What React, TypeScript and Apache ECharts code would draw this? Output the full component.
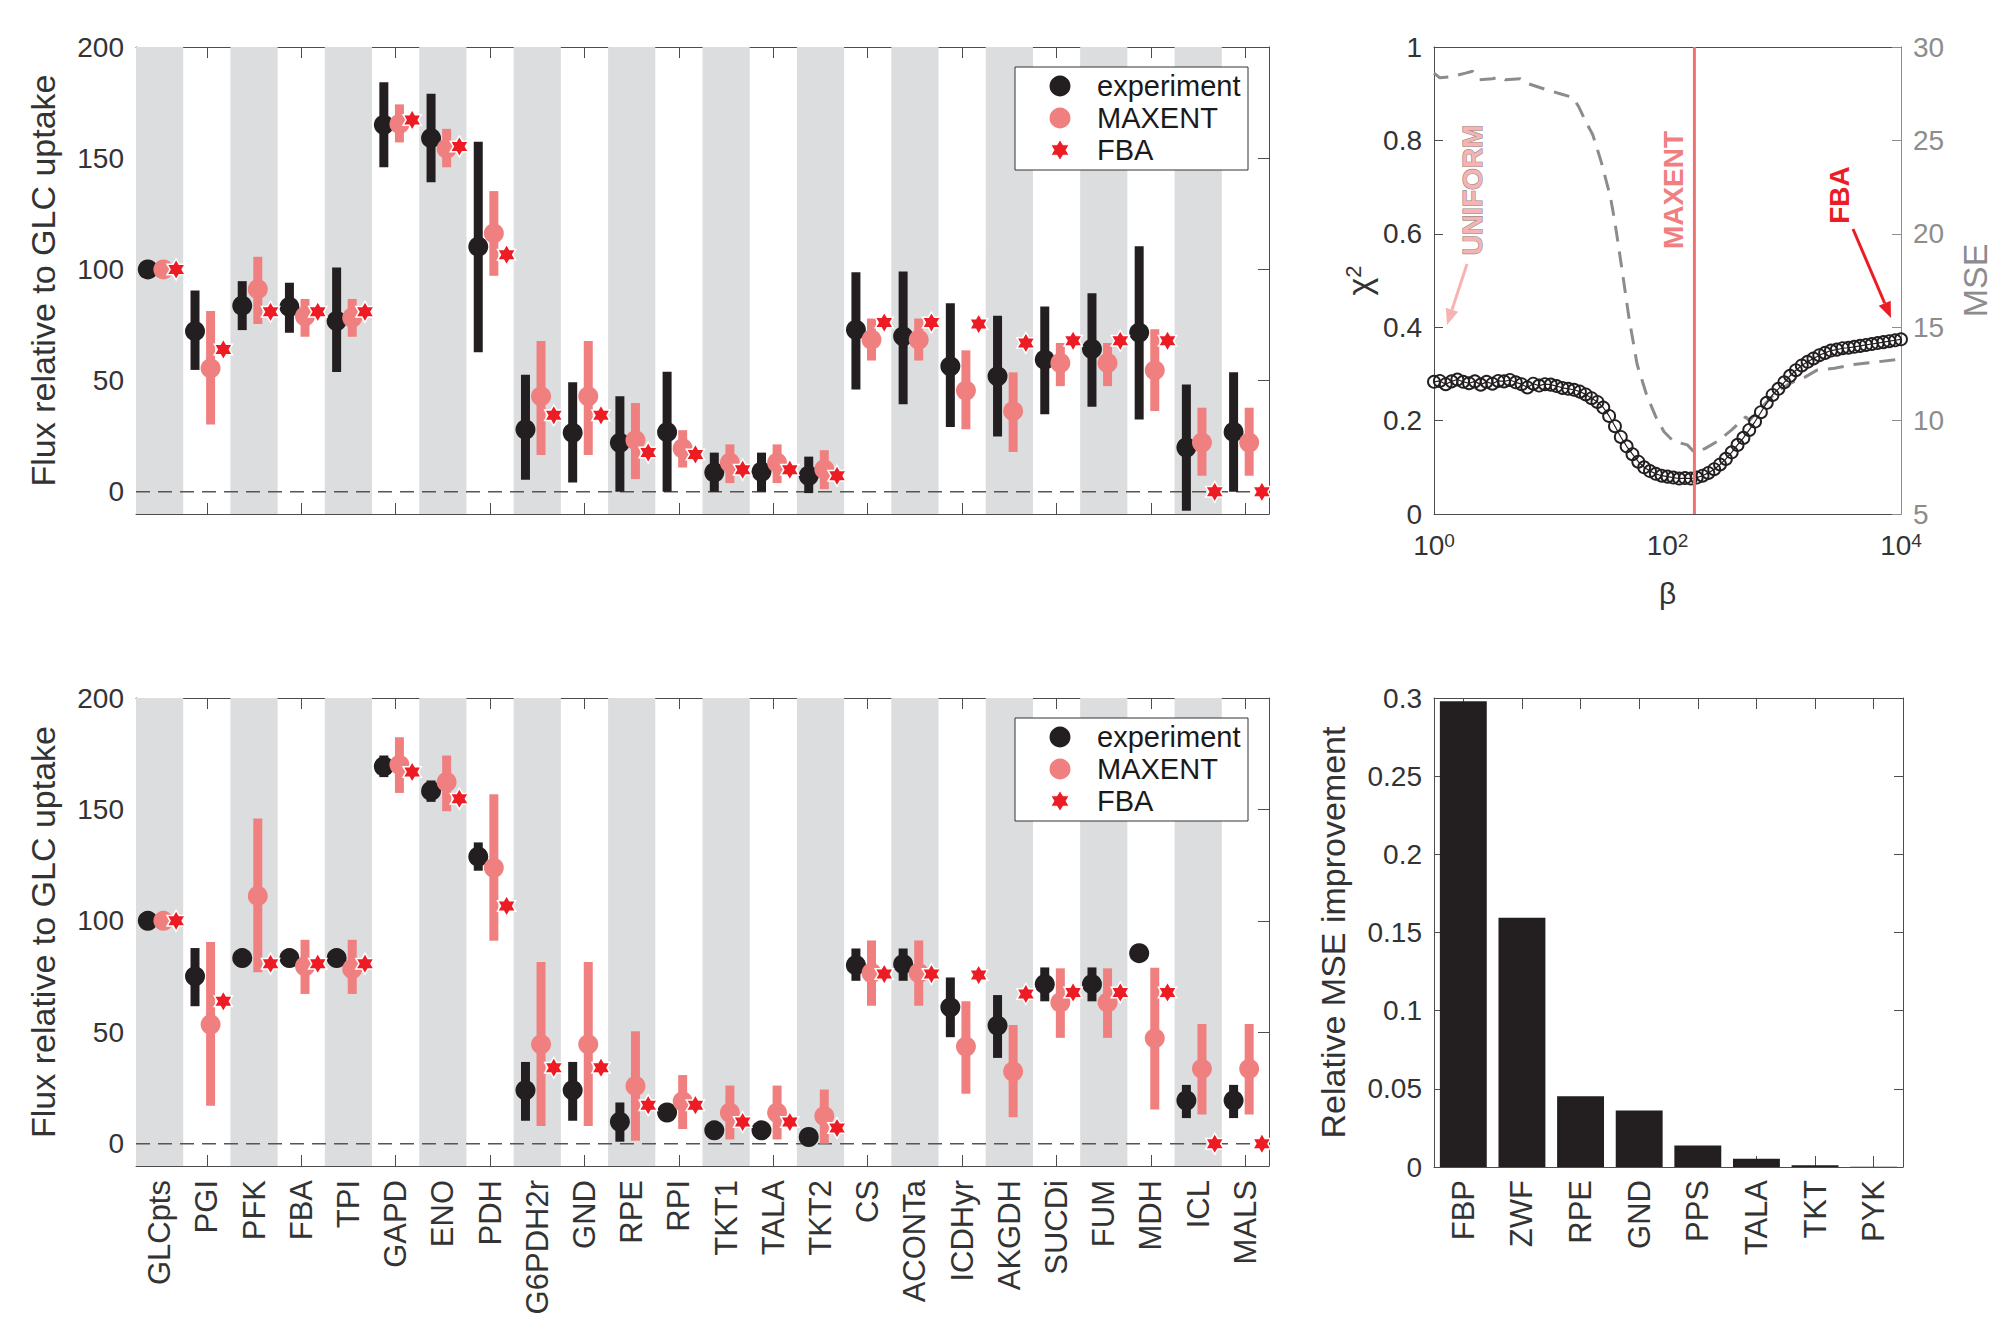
import React, { useEffect, useRef } from 'react';
import * as echarts from 'echarts';

// ---------------- data ----------------
const reactions = ['GLCpts', 'PGI', 'PFK', 'FBA', 'TPI', 'GAPD', 'ENO', 'PDH', 'G6PDH2r', 'GND', 'RPE', 'RPI', 'TKT1', 'TALA', 'TKT2', 'CS', 'ACONTa', 'ICDHyr', 'AKGDH', 'SUCDi', 'FUM', 'MDH', 'ICL', 'MALS'];

// top panel
const topExp = [100, 72.2, 83.7, 83.1, 76.8, 165, 159, 110.2, 28, 26.5, 22, 26.8, 8.7, 9, 7.2, 72.8, 69.9, 56.4, 51.9, 59.4, 64.2, 71.6, 19.9, 26.9];
const topExpLow = [null, 54.8, 72.7, 71.5, 53.9, 145.9, 139.2, 62.7, 5.4, 4.2, 0, 0, 0, 0, -0.6, 46, 39.3, 29.1, 24.8, 34.8, 38.2, 32.5, -8.5, 0];
const topExpHigh = [null, 90.5, 94.7, 94, 100.8, 184.2, 179, 157.4, 52.6, 49.3, 42.9, 54, 17.6, 17.6, 15.8, 98.7, 99.1, 84.8, 79.1, 83.3, 89.3, 110.4, 48.2, 53.7];
const topMaxent = [100, 55.5, 91.1, 78.9, 78.3, 165.4, 154.3, 116.2, 42.9, 42.9, 23.2, 19.5, 13.1, 13.1, 10.1, 68.4, 68.4, 45.5, 36.3, 57.9, 57.9, 54.6, 22.1, 22.1];
const topMaxentLow = [null, 30.2, 75.4, 69.7, 69.7, 157.1, 145.9, 97.1, 16.5, 16.5, 5.7, 10.9, 3.9, 3.9, 1.2, 59, 59, 28.1, 17.9, 47.5, 47.5, 36.3, 7.2, 7.2];
const topMaxentHigh = [null, 81.3, 105.7, 86.7, 86.7, 174.2, 163.2, 135.2, 67.8, 67.8, 39.9, 27.7, 21.3, 21.3, 18.7, 77.9, 77.9, 63.6, 53.7, 66.9, 66.9, 73.1, 37.8, 37.8];
const topFba = [100, 64, 80.9, 80.9, 80.9, 167.2, 155.3, 106.6, 34.4, 34.4, 17.6, 16.8, 9.9, 9.9, 7.2, 76.1, 76.1, 75.4, 66.9, 67.9, 67.9, 67.9, 0, 0];

// bottom panel
const botExp = [100, 75.1, 83.3, 83.3, 83.3, 169.3, 158.3, 128.8, 24, 24, 9.8, 14, 6, 6, 3, 80.1, 80.6, 61.2, 53, 71.6, 71.6, 85.5, 19.4, 19.4];
const botExpLow = [null, 61.7, null, null, null, 164.5, 153.4, 122.5, 10.3, 10.3, 0.9, null, null, null, null, 73.1, 73.1, 47.8, 38.5, 63.9, 63.9, null, 11.5, 11.5];
const botExpHigh = [null, 87.8, null, null, null, 174.2, 163, 135.2, 36.7, 36.7, 18.5, null, null, null, null, 87.6, 87.6, 74.6, 66.7, 79.1, 79.1, null, 26.4, 26.4];
const botMaxent = [100, 53.5, 111.2, 79.6, 78.4, 170, 162.3, 123.8, 44.6, 44.6, 25.9, 19, 13.9, 13.9, 12.4, 76.6, 76.6, 43.6, 32.4, 63.4, 63.4, 47.3, 33.6, 33.6];
const botMaxentLow = [null, 17, 76.9, 67.2, 67.2, 157.4, 149.2, 91.1, 8, 8, 1.3, 6.6, 1.9, 1.9, 0, 61.9, 61.9, 22.4, 11.9, 47.5, 47.5, 15.4, 13.1, 13.1];
const botMaxentHigh = [null, 90.5, 145.9, 91.5, 91.5, 182.4, 174.2, 156.8, 81.5, 81.5, 50.5, 30.8, 26.1, 26.1, 24.3, 91.2, 91.2, 63.9, 53.3, 78.7, 78.7, 79, 53.7, 53.7];
const botFba = [100, 63.9, 80.8, 80.8, 80.8, 166.8, 154.8, 106.7, 34.1, 34.1, 17.3, 17.3, 9.7, 9.7, 7, 76.1, 76.1, 75.7, 67.2, 67.9, 67.9, 67.9, 0, 0];

// chi^2 vs beta (beta given as log10 exponent)
const chiBetaLog10 = [0, 0.05, 0.1, 0.15, 0.2, 0.25, 0.3, 0.35, 0.4, 0.45, 0.5, 0.55, 0.6, 0.65, 0.7, 0.75, 0.8, 0.85, 0.9, 0.95, 1, 1.05, 1.1, 1.15, 1.2, 1.25, 1.3, 1.35, 1.4, 1.45, 1.5, 1.55, 1.6, 1.65, 1.7, 1.75, 1.8, 1.85, 1.9, 1.95, 2, 2.05, 2.1, 2.15, 2.2, 2.25, 2.3, 2.35, 2.4, 2.45, 2.5, 2.55, 2.6, 2.65, 2.7, 2.75, 2.8, 2.85, 2.9, 2.95, 3, 3.05, 3.1, 3.15, 3.2, 3.25, 3.3, 3.35, 3.4, 3.45, 3.5, 3.55, 3.6, 3.65, 3.7, 3.75, 3.8, 3.85, 3.9, 3.95, 4];
const chi2 = [0.283, 0.285, 0.278, 0.284, 0.288, 0.283, 0.28, 0.284, 0.277, 0.283, 0.279, 0.285, 0.284, 0.287, 0.282, 0.278, 0.271, 0.279, 0.275, 0.278, 0.277, 0.274, 0.27, 0.268, 0.266, 0.262, 0.256, 0.248, 0.24, 0.228, 0.21, 0.188, 0.165, 0.145, 0.128, 0.112, 0.1, 0.092, 0.086, 0.082, 0.08, 0.078, 0.076, 0.077, 0.076, 0.078, 0.082, 0.088, 0.096, 0.106, 0.118, 0.132, 0.148, 0.163, 0.18, 0.198, 0.218, 0.238, 0.255, 0.268, 0.282, 0.296, 0.308, 0.318, 0.326, 0.333, 0.34, 0.345, 0.35, 0.352, 0.355, 0.356, 0.358, 0.36, 0.362, 0.364, 0.366, 0.368, 0.37, 0.372, 0.374];

// MSE vs beta (right axis)
const mseBetaLog10 = [0, 0.05, 0.14, 0.27, 0.33, 0.39, 0.5, 0.57, 0.61, 0.74, 0.8, 0.97, 1.08, 1.19, 1.24, 1.3, 1.36, 1.43, 1.51, 1.55, 1.61, 1.67, 1.74, 1.82, 1.9, 1.97, 2.05, 2.17, 2.23, 2.32, 2.43, 2.55, 2.67, 2.7, 2.82, 2.93, 3.05, 3.17, 3.28, 3.43, 3.59, 3.74, 4];
const mse = [28.6, 28.35, 28.4, 28.6, 28.7, 28.25, 28.3, 28.4, 28.25, 28.3, 28.05, 27.7, 27.5, 27.3, 26.8, 26.0, 25.3, 23.9, 22.0, 20.6, 18.1, 15.5, 13.0, 11.4, 10.2, 9.4, 8.9, 8.7, 8.3, 8.5, 8.9, 9.5, 10.2, 10.0, 10.8, 11.5, 12.0, 12.3, 12.7, 12.8, 13.0, 13.1, 13.3];
const maxentBeta = 170;
const betaTicks = [0, 2, 4];

// knockout bar chart
const knockouts = ['FBP', 'ZWF', 'RPE', 'GND', 'PPS', 'TALA', 'TKT', 'PYK'];
const improvement = [0.298, 0.1595, 0.0452, 0.0361, 0.0137, 0.0053, 0.0011, 0.0002];

const fluxTicks = [0, 50, 100, 150, 200];

// ---------------- style ----------------
const FONT = '"Liberation Sans", Arial, Helvetica, sans-serif';
const BLACK = '#231F20';
const PINK = '#F08080';
const RED = '#ED1C24';
const BAND = '#DCDDDF';
const AXIS = '#4D4D4D';
const TEXT = '#333333';
const GRAY = '#8C8C8C';
const Y_MIN = -10;
const Y_MAX = 200;
const STAR = 'path://M0,-10L2.887,-5L8.66,-5L5.774,0L8.66,5L2.887,5L0,10L-2.887,5L-8.66,5L-5.774,0L-8.66,-5L-2.887,-5Z';
const OFF_EXP = -0.25;
const OFF_MAX = 0.08;
const OFF_FBA = 0.35;

function hexagram(cx: number, cy: number, R: number) {
  const r = R / Math.sqrt(3);
  const pts: number[][] = [];
  for (let k = 0; k < 12; k++) {
    const ang = -Math.PI / 2 + (k * Math.PI) / 6;
    const rad = k % 2 === 0 ? R : r;
    pts.push([cx + rad * Math.cos(ang), cy + rad * Math.sin(ang)]);
  }
  return pts;
}

function arrow(x1: number, y1: number, x2: number, y2: number, color: string) {
  const dx = x2 - x1, dy = y2 - y1;
  const L = Math.hypot(dx, dy);
  const ux = dx / L, uy = dy / L;
  const hl = 16, hw = 6.5;
  const bx = x2 - ux * hl, by = y2 - uy * hl;
  return [
    { type: 'line', z: 50, shape: { x1, y1, x2: bx, y2: by }, style: { stroke: color, lineWidth: 3 } },
    { type: 'polygon', z: 50, shape: { points: [[x2, y2], [bx - uy * hw, by + ux * hw], [bx + uy * hw, by - ux * hw]] }, style: { fill: color } },
  ];
}

function legendGraphic(top: number) {
  const left = 1015, w = 233, h = 103, cx = 1060;
  const rows = [top + 19, top + 51, top + 83];
  const txt = (t: string, y: number) => ({
    type: 'text', z: 101, x: 1097, y,
    style: { text: t, fontSize: 29, fill: '#1A1A1A', verticalAlign: 'middle', fontFamily: FONT },
  });
  return [
    { type: 'rect', z: 100, shape: { x: left, y: top, width: w, height: h }, style: { fill: '#fff', stroke: '#333', lineWidth: 1 } },
    { type: 'circle', z: 101, shape: { cx, cy: rows[0], r: 10.5 }, style: { fill: BLACK } },
    { type: 'circle', z: 101, shape: { cx, cy: rows[1], r: 10.5 }, style: { fill: PINK } },
    { type: 'polygon', z: 101, shape: { points: hexagram(cx, rows[2], 10.5) }, style: { fill: RED, stroke: '#fff', lineWidth: 1 } },
    txt('experiment', rows[0]),
    txt('MAXENT', rows[1]),
    txt('FBA', rows[2]),
  ];
}

function catAxis(gridIndex: number, data: string[], position: string, showLabels: boolean, tickFn: any, margin: number) {
  return {
    type: 'category', gridIndex, position, data, boundaryGap: true,
    axisLine: { show: true, onZero: false, lineStyle: { color: AXIS, width: 1 } },
    axisTick: { show: true, inside: true, length: 11, alignWithLabel: true, interval: tickFn, lineStyle: { color: AXIS } },
    axisLabel: showLabels
      ? { show: true, rotate: 90, interval: 0, fontSize: 31, color: TEXT, margin, fontFamily: FONT }
      : { show: false },
    splitLine: { show: false },
  };
}

function fluxYAxis(gridIndex: number, position: string, named: boolean) {
  return {
    type: 'value', gridIndex, position, min: Y_MIN, max: Y_MAX,
    axisLine: { show: true, onZero: false, lineStyle: { color: AXIS, width: 1 } },
    axisTick: { show: true, inside: true, length: 11, customValues: fluxTicks, lineStyle: { color: AXIS } },
    axisLabel: named
      ? { show: true, customValues: fluxTicks, fontSize: 28, color: TEXT, margin: 12, fontFamily: FONT }
      : { show: false },
    splitLine: { show: false },
    name: named ? 'Flux relative to GLC uptake' : '',
    nameLocation: 'middle', nameGap: 76, nameRotate: 90, nameMoveOverlap: false,
    nameTextStyle: { fontSize: 34, color: TEXT, fontFamily: FONT },
  };
}

function barRender(color: string) {
  return (params: any, api: any) => {
    const x = api.value(0), lo = api.value(1), hi = api.value(2);
    const a = api.coord([x, hi]);
    const b = api.coord([x, lo]);
    return { type: 'rect', shape: { x: a[0] - 4.5, y: a[1], width: 9, height: b[1] - a[1] }, style: { fill: color } };
  };
}

function panelSeries(xi: number, yi: number, exp: number[], expLo: any[], expHi: any[], mx: number[], mxLo: any[], mxHi: any[], fba: number[]) {
  const bars = (off: number, lo: any[], hi: any[]) =>
    lo.map((l, i) => (l == null ? null : [i + off, l, hi[i]])).filter((d) => d !== null);
  return [
    {
      type: 'custom', coordinateSystem: 'cartesian2d', xAxisIndex: xi, yAxisIndex: yi, z: 1, silent: true,
      data: reactions.map((_, i) => [i, 0]).filter((_, i) => i % 2 === 0),
      encode: { x: 0, y: 1 },
      renderItem: (params: any, api: any) => {
        const v = api.value(0);
        const a = api.coord([v - 0.5, Y_MAX]);
        const b = api.coord([v + 0.5, Y_MIN]);
        return { type: 'rect', shape: { x: a[0], y: a[1], width: b[0] - a[0], height: b[1] - a[1] }, style: { fill: BAND } };
      },
    },
    {
      type: 'line', xAxisIndex: xi, yAxisIndex: yi, z: 2, silent: true,
      data: [[-0.5, 0], [reactions.length - 0.5, 0]], symbol: 'none',
      lineStyle: { color: '#555', width: 1.5, type: [14, 8] },
    },
    {
      type: 'custom', coordinateSystem: 'cartesian2d', xAxisIndex: xi, yAxisIndex: yi, z: 3,
      data: bars(OFF_EXP, expLo, expHi), encode: { x: 0, y: [1, 2] }, renderItem: barRender(BLACK),
    },
    {
      type: 'scatter', name: 'experiment', xAxisIndex: xi, yAxisIndex: yi, z: 4,
      data: exp.map((v, i) => [i + OFF_EXP, v]), symbol: 'circle', symbolSize: 20,
      itemStyle: { color: BLACK, opacity: 1 },
    },
    {
      type: 'custom', coordinateSystem: 'cartesian2d', xAxisIndex: xi, yAxisIndex: yi, z: 5,
      data: bars(OFF_MAX, mxLo, mxHi), encode: { x: 0, y: [1, 2] }, renderItem: barRender(PINK),
    },
    {
      type: 'scatter', name: 'MAXENT', xAxisIndex: xi, yAxisIndex: yi, z: 6,
      data: mx.map((v, i) => [i + OFF_MAX, v]), symbol: 'circle', symbolSize: 20,
      itemStyle: { color: PINK, opacity: 1 },
    },
    {
      type: 'scatter', name: 'FBA', xAxisIndex: xi, yAxisIndex: yi, z: 7,
      data: fba.map((v, i) => [i + OFF_FBA, v]), symbol: STAR, symbolSize: 21, symbolKeepAspect: true,
      itemStyle: { color: RED, borderColor: '#fff', borderWidth: 1.5, opacity: 1 },
    },
  ];
}

const oddTicks = (i: number) => i % 2 === 1;
const allTicks = () => true;

export default function App() {
  const ref = useRef<HTMLDivElement>(null);

  useEffect(() => {
    if (!ref.current) return;
    const chart = echarts.init(ref.current, null, { renderer: 'svg' });
    const maxentLog = Math.log10(maxentBeta);

    const option: any = {
      animation: false,
      backgroundColor: '#ffffff',
      textStyle: { fontFamily: FONT },
      grid: [
        { left: 136, top: 47, width: 1133, height: 467, outerBoundsMode: 'none' },
        { left: 136, top: 698, width: 1133, height: 468, outerBoundsMode: 'none' },
        { left: 1434, top: 47, width: 467, height: 467, outerBoundsMode: 'none' },
        { left: 1434, top: 698, width: 469, height: 469, outerBoundsMode: 'none' },
      ],
      xAxis: [
        catAxis(0, reactions, 'bottom', false, oddTicks, 14),
        catAxis(0, reactions, 'top', false, oddTicks, 14),
        { type: 'value', gridIndex: 0, min: -0.5, max: reactions.length - 0.5, show: false },
        catAxis(1, reactions, 'bottom', true, oddTicks, 14),
        catAxis(1, reactions, 'top', false, oddTicks, 14),
        { type: 'value', gridIndex: 1, min: -0.5, max: reactions.length - 0.5, show: false },
        {
          type: 'value', gridIndex: 2, position: 'bottom', min: 0, max: 4, interval: 2,
          axisLine: { show: true, onZero: false, lineStyle: { color: AXIS } },
          axisTick: { show: false },
          axisLabel: {
            show: true, margin: 17, color: TEXT, fontFamily: FONT,
            customValues: betaTicks,
            formatter: (v: number) => '{b|10}{s|' + v + '}',
            rich: {
              b: { fontSize: 28, color: TEXT, fontFamily: FONT },
              s: { fontSize: 19, color: TEXT, fontFamily: FONT, verticalAlign: 'top' },
            },
          },
          splitLine: { show: false },
          name: 'β', nameLocation: 'middle', nameGap: 64, nameMoveOverlap: false,
          nameTextStyle: { fontSize: 30, color: TEXT, fontFamily: FONT },
        },
        {
          type: 'value', gridIndex: 2, position: 'top', min: 0, max: 4,
          axisLine: { show: true, onZero: false, lineStyle: { color: AXIS } },
          axisTick: { show: false }, axisLabel: { show: false }, splitLine: { show: false },
        },
        catAxis(3, knockouts, 'bottom', true, allTicks, 13),
        catAxis(3, knockouts, 'top', false, allTicks, 13),
      ],
      yAxis: [
        fluxYAxis(0, 'left', true),
        fluxYAxis(0, 'right', false),
        fluxYAxis(1, 'left', true),
        fluxYAxis(1, 'right', false),
        {
          type: 'value', gridIndex: 2, position: 'left', min: 0, max: 1, interval: 0.2,
          axisLine: { show: true, onZero: false, lineStyle: { color: AXIS } },
          axisTick: { show: true, inside: true, length: 9, lineStyle: { color: AXIS } },
          axisLabel: { show: true, fontSize: 28, color: TEXT, margin: 12, fontFamily: FONT },
          splitLine: { show: false },
          name: 'χ{s|2}', nameLocation: 'middle', nameGap: 58, nameRotate: 90, nameMoveOverlap: false,
          nameTextStyle: {
            fontSize: 34, color: TEXT, fontFamily: FONT,
            rich: { s: { fontSize: 22, color: TEXT, fontFamily: FONT, verticalAlign: 'top' } },
          },
        },
        {
          type: 'value', gridIndex: 2, position: 'right', min: 5, max: 30, interval: 5,
          axisLine: { show: true, onZero: false, lineStyle: { color: GRAY } },
          axisTick: { show: true, inside: true, length: 9, lineStyle: { color: GRAY } },
          axisLabel: { show: true, fontSize: 28, color: GRAY, margin: 12, fontFamily: FONT },
          splitLine: { show: false },
          name: 'MSE', nameLocation: 'middle', nameGap: 57, nameRotate: 90, nameMoveOverlap: false,
          nameTextStyle: { fontSize: 34, color: GRAY, fontFamily: FONT },
        },
        {
          type: 'value', gridIndex: 3, position: 'left', min: 0, max: 0.3, interval: 0.05,
          axisLine: { show: true, onZero: false, lineStyle: { color: AXIS } },
          axisTick: { show: true, inside: true, length: 9, lineStyle: { color: AXIS } },
          axisLabel: { show: true, fontSize: 28, color: TEXT, margin: 12, fontFamily: FONT },
          splitLine: { show: false },
          name: 'Relative MSE improvement', nameLocation: 'middle', nameGap: 84, nameRotate: 90, nameMoveOverlap: false,
          nameTextStyle: { fontSize: 34, color: TEXT, fontFamily: FONT },
        },
        {
          type: 'value', gridIndex: 3, position: 'right', min: 0, max: 0.3, interval: 0.05,
          axisLine: { show: true, onZero: false, lineStyle: { color: AXIS } },
          axisTick: { show: true, inside: true, length: 9, lineStyle: { color: AXIS } },
          axisLabel: { show: false }, splitLine: { show: false },
        },
      ],
      series: [
        ...panelSeries(2, 0, topExp, topExpLow, topExpHigh, topMaxent, topMaxentLow, topMaxentHigh, topFba),
        ...panelSeries(5, 2, botExp, botExpLow, botExpHigh, botMaxent, botMaxentLow, botMaxentHigh, botFba),
        {
          type: 'line', name: 'MSE', xAxisIndex: 6, yAxisIndex: 5, z: 2,
          data: mseBetaLog10.map((x, i) => [x, mse[i]]), symbol: 'none',
          lineStyle: { color: GRAY, width: 3, type: [16, 10] },
        },
        {
          type: 'line', name: 'chi2', xAxisIndex: 6, yAxisIndex: 4, z: 3,
          data: chiBetaLog10.map((x, i) => [x, chi2[i]]), symbol: 'circle', symbolSize: 12, showAllSymbol: true,
          lineStyle: { color: BLACK, width: 1.2 },
          itemStyle: { color: 'rgba(0,0,0,0)', borderColor: BLACK, borderWidth: 1.9 },
        },
        {
          type: 'line', name: 'MAXENT beta', xAxisIndex: 6, yAxisIndex: 4, z: 4,
          data: [[maxentLog, 0], [maxentLog, 1]], symbol: 'none',
          lineStyle: { color: '#F07272', width: 3 },
        },
        {
          type: 'bar', name: 'improvement', xAxisIndex: 8, yAxisIndex: 6,
          data: improvement, barWidth: '80%', itemStyle: { color: BLACK },
        },
      ],
      graphic: {
        elements: [
          ...legendGraphic(67),
          ...legendGraphic(718),
          {
            type: 'text', z: 60, x: 1472, y: 190, rotation: Math.PI / 2,
            style: { text: 'UNIFORM', fontSize: 28, fontWeight: 'bold', fill: '#F7B3B3', stroke: '#8A8A8A', lineWidth: 1.2, align: 'center', verticalAlign: 'middle', fontFamily: FONT },
          },
          {
            type: 'text', z: 60, x: 1673, y: 190, rotation: Math.PI / 2,
            style: { text: 'MAXENT', fontSize: 28, fontWeight: 'bold', fill: PINK, align: 'center', verticalAlign: 'middle', fontFamily: FONT },
          },
          {
            type: 'text', z: 60, x: 1839, y: 195, rotation: Math.PI / 2,
            style: { text: 'FBA', fontSize: 28, fontWeight: 'bold', fill: RED, align: 'center', verticalAlign: 'middle', fontFamily: FONT },
          },
          ...arrow(1467, 264, 1447, 325, '#F7B3B3'),
          ...arrow(1853, 229, 1891, 318, RED),
        ],
      },
    };

    chart.setOption(option);
    return () => chart.dispose();
  }, []);

  return <div ref={ref} style={{ position: 'absolute', left: 0, top: 0, width: 2007, height: 1335, background: '#fff' }} />;
}
